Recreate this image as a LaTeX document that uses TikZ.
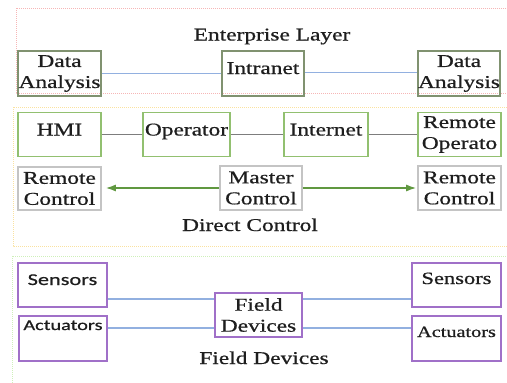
\documentclass[tikz,border=0pt]{standalone}
\usepackage{fontspec}
\usepackage{graphicx}
\setmainfont{Liberation Serif}[FakeBold=0.6]
\newfontfamily\sansf{Carlito}[FakeBold=0.6]
\newcommand\sx[1]{\scalebox{1.3}[1]{#1}}
\newcommand\sxs[1]{\scalebox{1.35}[1]{#1}}
\usetikzlibrary{arrows.meta}
\definecolor{entc}{RGB}{128,146,112}
\definecolor{grnc}{RGB}{146,192,112}
\definecolor{grayb}{RGB}{196,196,196}
\definecolor{purc}{RGB}{160,112,200}
\definecolor{bluel}{RGB}{146,176,224}
\definecolor{grayl}{RGB}{125,125,125}
\definecolor{arrg}{RGB}{96,152,64}
\definecolor{frpink}{RGB}{246,182,182}
\definecolor{fryel}{RGB}{250,226,160}
\definecolor{frgrn}{RGB}{206,240,186}
\definecolor{txtc}{RGB}{30,30,30}
\tikzset{
  bx/.style={draw, line width=1.6pt, inner sep=0pt, align=center, text=txtc, font=\fontsize{18}{21}\selectfont},
  ent/.style={bx, draw=entc},
  dgr/.style={bx, draw=grnc},
  lgr/.style={bx, draw=grayb},
  pur/.style={bx, draw=purc},
  frame/.style={densely dotted, line width=1pt},
  ttl/.style={anchor=base, inner sep=0pt, text=txtc, font=\fontsize{18}{21}\selectfont},
  bline/.style={draw=bluel, line width=1.6pt},
  gline/.style={draw=grayl, line width=1.6pt},
  garr/.style={draw=arrg, line width=1.5pt, -{Latex[length=10pt,width=7pt]}},
}
\begin{document}
\begin{tikzpicture}[x=1pt,y=-1pt]
\clip (0,0) rectangle (507,383);
\fill[white] (0,0) rectangle (507,383);
% frames
\draw[frame, draw=frpink] (16,8) rectangle (520,93);
\draw[frame, draw=fryel] (13,107) rectangle (520,246);
\draw[frame, draw=frgrn] (12,256) rectangle (520,400);
% enterprise layer
\node[ttl] (tEnt) at (272,40.5) {\sx{Enterprise Layer}};
\node[ent, minimum width=83pt, minimum height=45pt] (da1) at (59.5,73.5) {\sx{Data}\\\sx{Analysis}};
\node[ent, minimum width=82pt, text height=23pt, text depth=22pt] (intr) at (263,73.5) {\sx{Intranet}};
\node[ent, minimum width=82pt, minimum height=45pt] (da2) at (459,73.5) {\sx{Data}\\\sx{Analysis}};
\draw[bline] (da1.east) -- (intr.west);
\draw[bline] ([yshift=1pt]intr.east) -- ([yshift=1pt]da2.west);
% direct control
\node[dgr, minimum width=83pt, text height=23pt, text depth=21pt] (hmi) at (59.5,134.5) {\sx{HMI}};
\node[dgr, minimum width=87pt, text height=23pt, text depth=21pt] (oper) at (186.5,134.5) {\sx{Operator}};
\node[dgr, minimum width=84pt, text height=23pt, text depth=21pt] (inet) at (326,134.5) {\sx{Internet}};
\node[dgr, minimum width=83pt, minimum height=44pt] (ro) at (459.5,134.5) {\sx{Remote}\\\sx{Operato}};
\draw[gline] (hmi.east) -- (oper.west);
\draw[gline] (oper.east) -- (inet.west);
\draw[gline] (inet.east) -- (ro.west);
\node[lgr, minimum width=83pt, minimum height=43pt] (rc1) at (59.5,188.5) {\sx{Remote}\\\sx{Control}};
\node[lgr, minimum width=82pt, minimum height=44pt] (mc) at (261,188) {\sx{Master}\\\sx{Control}};
\node[lgr, minimum width=83pt, minimum height=44pt] (rc2) at (459.5,188) {\sx{Remote}\\\sx{Control}};
\draw[garr, shorten >=4pt] (mc.west) -- (mc.west -| rc1.east);
\draw[garr, shorten >=1pt] (mc.east) -- (mc.east -| rc2.west);
\node[ttl] (tDir) at (250,231) {\sx{Direct Control}};
% field devices
\node[pur, minimum width=89pt, text height=22pt, text depth=22pt, font=\sansf\fontsize{16.5}{20}\selectfont] (s1) at (62.5,285) {\sxs{Sensors}};
\node[pur, minimum width=88pt, text height=14pt, text depth=31pt, font=\sansf\fontsize{15}{18}\selectfont] (a1) at (63,338.5) {\sxs{Actuators}};
\node[pur, minimum width=87pt, minimum height=44pt] (fd) at (258.5,315) {\sx{Field}\\\sx{Devices}};
\node[pur, minimum width=89pt, text height=21pt, text depth=23pt, font=\fontsize{17.3}{20}\selectfont] (s2) at (456.5,285) {\sx{Sensors}};
\node[pur, minimum width=89pt, text height=21pt, text depth=24pt, font=\fontsize{15.6}{18}\selectfont] (a2) at (456.5,338.5) {\sx{Actuators}};
\draw[bline] ([yshift=-7pt]fd.north west) -- ([yshift=-7pt]fd.north west -| s1.east);
\draw[bline] ([yshift=10pt]fd.south west) -- ([yshift=10pt]fd.south west -| a1.east);
\draw[bline] ([yshift=-7pt]fd.north east) -- ([yshift=-7pt]fd.north east -| s2.west);
\draw[bline] ([yshift=10pt]fd.south east) -- ([yshift=10pt]fd.south east -| a2.west);
\node[ttl] (tFld) at (264,364) {\sx{Field Devices}};
\end{tikzpicture}
\end{document}
